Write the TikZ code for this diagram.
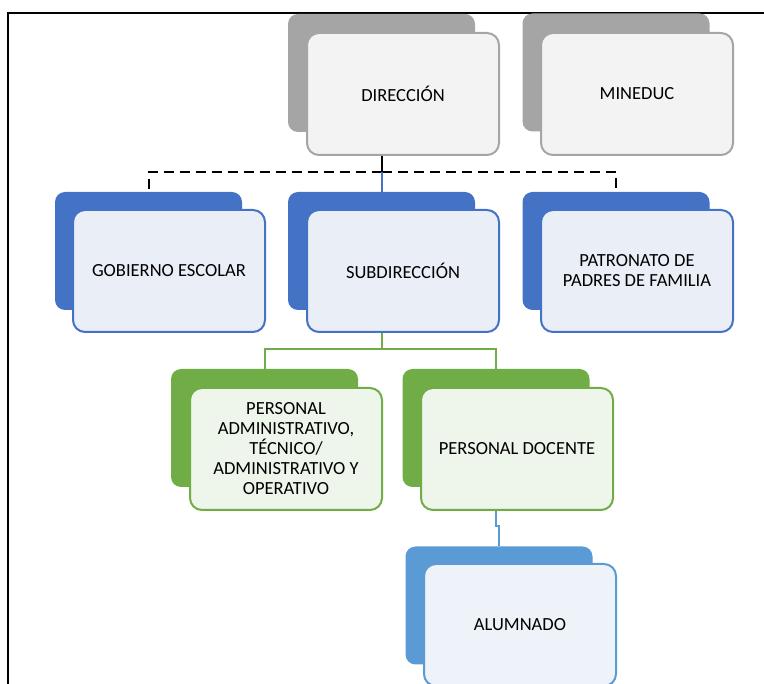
\documentclass[tikz,border=0pt]{standalone}
\usepackage{fontspec}
\setmainfont{Carlito}
\definecolor{cgray}{HTML}{A5A5A5}
\definecolor{cgrayL}{HTML}{F3F3F3}
\definecolor{cblue}{HTML}{4472C4}
\definecolor{cblueL}{HTML}{EAEFF7}
\definecolor{cgreen}{HTML}{70AD47}
\definecolor{cgreenL}{HTML}{EEF5EA}
\definecolor{clblue}{HTML}{5B9BD5}
\definecolor{clblueL}{HTML}{EEF3FA}
\begin{document}
\begin{tikzpicture}[x=1pt,y=-1pt,
  back/.style={rounded corners=10pt, minimum width=187pt, minimum height=118pt, inner sep=0pt, fill=#1, draw=none},
  front/.style={rounded corners=12pt, minimum width=192pt, minimum height=122pt, inner sep=0pt, fill=#1L, draw=#1, line width=2pt, align=center, font=\fontsize{18.5}{20}\selectfont, text=black},
  conn/.style={line width=2pt},
  dashconn/.style={line width=2pt, dash pattern=on 10pt off 6pt},
  frameline/.style={line width=2.5pt, black}]
\useasboundingbox (0,0) rectangle (764,684);
% frame
\draw[frameline] (8,684) -- (8,13) -- (764,13);
% back boxes
\node[back=cgray] (dirB) at (381.5,73) {};
\node[back=cgray] (minB) at (616,72.5) {};
\node[back=cblue] (gobB) at (148.5,251) {};
\node[back=cblue] (subB) at (381.5,251) {};
\node[back=cblue] (patB) at (616,251) {};
\node[back=cgreen] (admB) at (264.5,428) {};
\node[back=cgreen] (docB) at (496,428) {};
\node[back=clblue] (aluB) at (499,605.5) {};
% front boxes
\node[front=cgray] (dirF) at (403,94) {DIRECCIÓN};
\node[front=cgray] (minF) at (637,94) {MINEDUC};
\node[front=cblue] (gobF) at (169,271) {GOBIERNO ESCOLAR};
\node[front=cblue] (subF) at (403,271) {SUBDIRECCIÓN};
\node[front=cblue] (patF) at (637,271) {PATRONATO DE\\PADRES DE FAMILIA};
\node[front=cgreen] (admF) at (286,449) {PERSONAL\\ADMINISTRATIVO,\\TÉCNICO/\\ADMINISTRATIVO Y\\OPERATIVO};
\node[front=cgreen] (docF) at (517,449) {PERSONAL DOCENTE};
\node[front=clblue] (aluF) at (520,625) {ALUMNADO};
% connectors
\coordinate (dj) at (381.5,172.5);
\draw[conn] (dirB.south |- dirF.south) -- (dj);
\draw[dashconn] (dj) -| (gobB.north);
\draw[dashconn] (dj) -| (patB.north);
\draw[conn, cblue] (dj) -- (subB.north);
\coordinate (gj) at (381.5,349);
\draw[conn, cgreen] (subB.south |- subF.south) -- (gj);
\draw[conn, cgreen] (gj) -| (admB.north);
\draw[conn, cgreen] (gj) -| (docB.north);
\draw[conn, clblue] (docB.south |- docF.south) -- ++(0,15) -| (aluB.north);
\end{tikzpicture}
\end{document}
